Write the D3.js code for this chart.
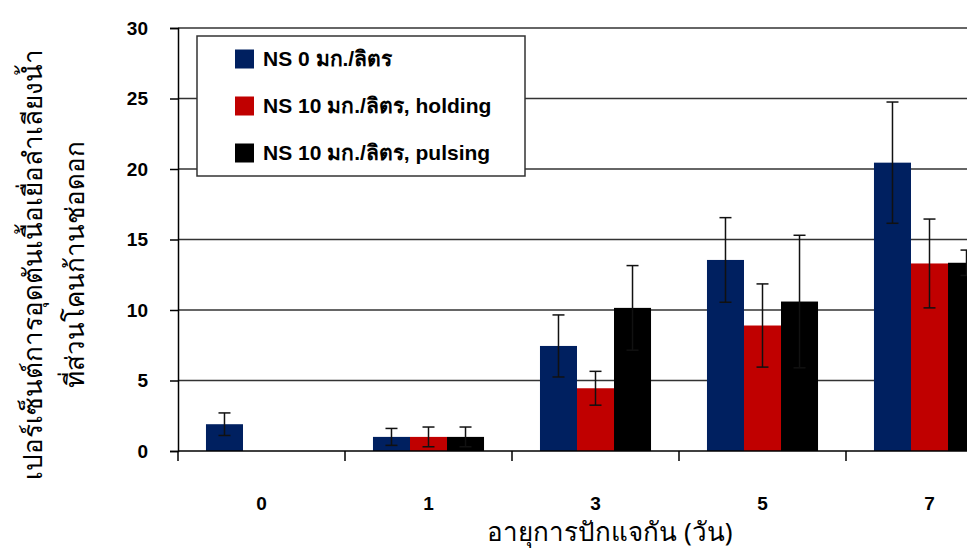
<!DOCTYPE html>
<html>
<head>
<meta charset="utf-8">
<title>Vascular blockage chart</title>
<script src="https://cdn.jsdelivr.net/npm/d3@7"></script>
<style>
  body { margin: 0; background: #fff; }
  svg { display: block; }
  .tick-label { font-family: "Liberation Sans", Arial, sans-serif; font-weight: bold; font-size: 19px; }
  .legend-label { font-family: "Liberation Sans", Arial, sans-serif; font-weight: bold; font-size: 21px; }
  .thai { font-family: "Noto Sans", "DejaVu Sans", sans-serif; }
</style>
</head>
<body>
<div id="chart"></div>
<script>
// data
var days = ["0", "1", "3", "5", "7"];
var seriesNames = ["NS 0 มก./ลิตร", "NS 10 มก./ลิตร, holding", "NS 10 มก./ลิตร, pulsing"];
var seriesColors = ["#002060", "#C00000", "#000000"];
var ns0 = [1.9, 1.0, 7.45, 13.55, 20.45];
var ns0Err = [0.8, 0.6, 2.2, 3.0, 4.3];
var holding = [0, 1.0, 4.45, 8.9, 13.3];
var holdingErr = [0, 0.7, 1.2, 2.95, 3.15];
var pulsing = [0, 1.0, 10.15, 10.6, 13.35];
var pulsingErr = [0, 0.7, 3.0, 4.7, 0.9];
var yTicks = [0, 5, 10, 15, 20, 25, 30];

(function() {
var width = 967, height = 554;
var mLeft = 178, mTop = 28, mBottom = 451, mRight = 1013;

var svg = d3.select("#chart").append("svg")
    .attr("width", width).attr("height", height)
    .style("overflow", "hidden");

var x = d3.scaleBand().domain(days).range([mLeft, mRight]);
var groupW = x.step() * 0.665;
var xSub = d3.scaleBand().domain(d3.range(3)).range([-groupW / 2, groupW / 2]);
var y = d3.scaleLinear().domain([0, 30]).range([mBottom, mTop]);

// grid lines
svg.append("g").selectAll("line")
    .data(yTicks.slice(1))
    .enter().append("line")
    .attr("x1", mLeft).attr("x2", mRight)
    .attr("y1", function(d) { return y(d); })
    .attr("y2", function(d) { return y(d); })
    .attr("stroke", "#333").attr("stroke-width", 1.3);

var vals = [ns0, holding, pulsing];
var errs = [ns0Err, holdingErr, pulsingErr];
var rows = [];
days.forEach(function(d, i) {
  for (var s = 0; s < 3; s++) {
    rows.push({ day: d, s: s, v: vals[s][i], e: errs[s][i] });
  }
});

svg.append("g").selectAll("rect")
    .data(rows.filter(function(r) { return r.v > 0; }))
    .enter().append("rect")
    .attr("x", function(r) { return x(r.day) + x.bandwidth() / 2 + xSub(r.s); })
    .attr("width", xSub.bandwidth())
    .attr("y", function(r) { return y(r.v); })
    .attr("height", function(r) { return y(0) - y(r.v); })
    .attr("fill", function(r) { return seriesColors[r.s]; });

// error bars
function cx(r) { return x(r.day) + x.bandwidth() / 2 + xSub(r.s) + xSub.bandwidth() / 2; }
function hi(r) { return y(r.v + r.e); }
function lo(r) { return y(Math.max(0, r.v - r.e)); }
var eb = svg.append("g").selectAll("g")
    .data(rows.filter(function(r) { return r.e > 0; }))
    .enter().append("g")
    .attr("stroke", "#111").attr("stroke-width", 1.5);
eb.append("line").attr("x1", cx).attr("x2", cx).attr("y1", hi).attr("y2", lo);
eb.append("line")
    .attr("x1", function(r) { return cx(r) - 6; }).attr("x2", function(r) { return cx(r) + 6; })
    .attr("y1", hi).attr("y2", hi);
eb.append("line")
    .attr("x1", function(r) { return cx(r) - 6; }).attr("x2", function(r) { return cx(r) + 6; })
    .attr("y1", lo).attr("y2", lo);

// y axis
var yAxis = svg.append("g")
    .attr("transform", "translate(" + mLeft + ",0)")
    .call(d3.axisLeft(y).tickValues(yTicks).tickSize(8).tickPadding(22));
yAxis.select(".domain").attr("stroke", "#000").attr("stroke-width", 1.5);
yAxis.selectAll(".tick line").attr("stroke", "#000").attr("stroke-width", 1.5);
yAxis.selectAll("text").attr("class", "tick-label").attr("fill", "#000");

// x axis: labels centred, tick marks between categories
var xAxis = svg.append("g")
    .attr("transform", "translate(0," + mBottom + ")")
    .call(d3.axisBottom(x).tickSize(0).tickPadding(46));
xAxis.select(".domain").remove();
xAxis.selectAll("text").attr("class", "tick-label").attr("fill", "#000");
svg.append("line")
    .attr("x1", mLeft).attr("x2", mRight)
    .attr("y1", mBottom).attr("y2", mBottom)
    .attr("stroke", "#000").attr("stroke-width", 1.5);
svg.append("g").selectAll("line")
    .data(days.concat(["end"]))
    .enter().append("line")
    .attr("x1", function(d) { return d === "end" ? mRight : x(d); })
    .attr("x2", function(d) { return d === "end" ? mRight : x(d); })
    .attr("y1", mBottom).attr("y2", mBottom + 10)
    .attr("stroke", "#000").attr("stroke-width", 1.5);

// axis titles
svg.append("text").attr("class", "thai")
    .attr("x", 610).attr("y", 541)
    .attr("text-anchor", "middle").attr("font-size", 26)
    .text("อายุการปักแจกัน (วัน)");
var yt = svg.append("text").attr("class", "thai")
    .attr("transform", "translate(0,264) rotate(-90)")
    .attr("text-anchor", "middle").attr("font-size", 26);
yt.append("tspan").attr("x", 0).attr("y", 42).text("เปอร์เซ็นต์การอุดตันเนื้อเยื่อลำเลียงน้ำ");
yt.append("tspan").attr("x", 0).attr("y", 84).text("ที่ส่วนโคนก้านช่อดอก");

// legend
var lg = svg.append("g").attr("transform", "translate(197,36)");
lg.append("rect").attr("width", 328).attr("height", 140)
    .attr("fill", "#fff").attr("stroke", "#333").attr("stroke-width", 1.5);
var item = lg.selectAll(".item").data(seriesNames).enter().append("g")
    .attr("transform", function(d, i) { return "translate(38," + (23 + i * 47) + ")"; });
item.append("rect").attr("x", 0).attr("y", -9.5).attr("width", 19).attr("height", 19)
    .attr("fill", function(d, i) { return seriesColors[i]; });
item.append("text").attr("class", "legend-label").attr("x", 28).attr("y", 7)
    .text(function(d) { return d; });
})();
</script>
</body>
</html>
